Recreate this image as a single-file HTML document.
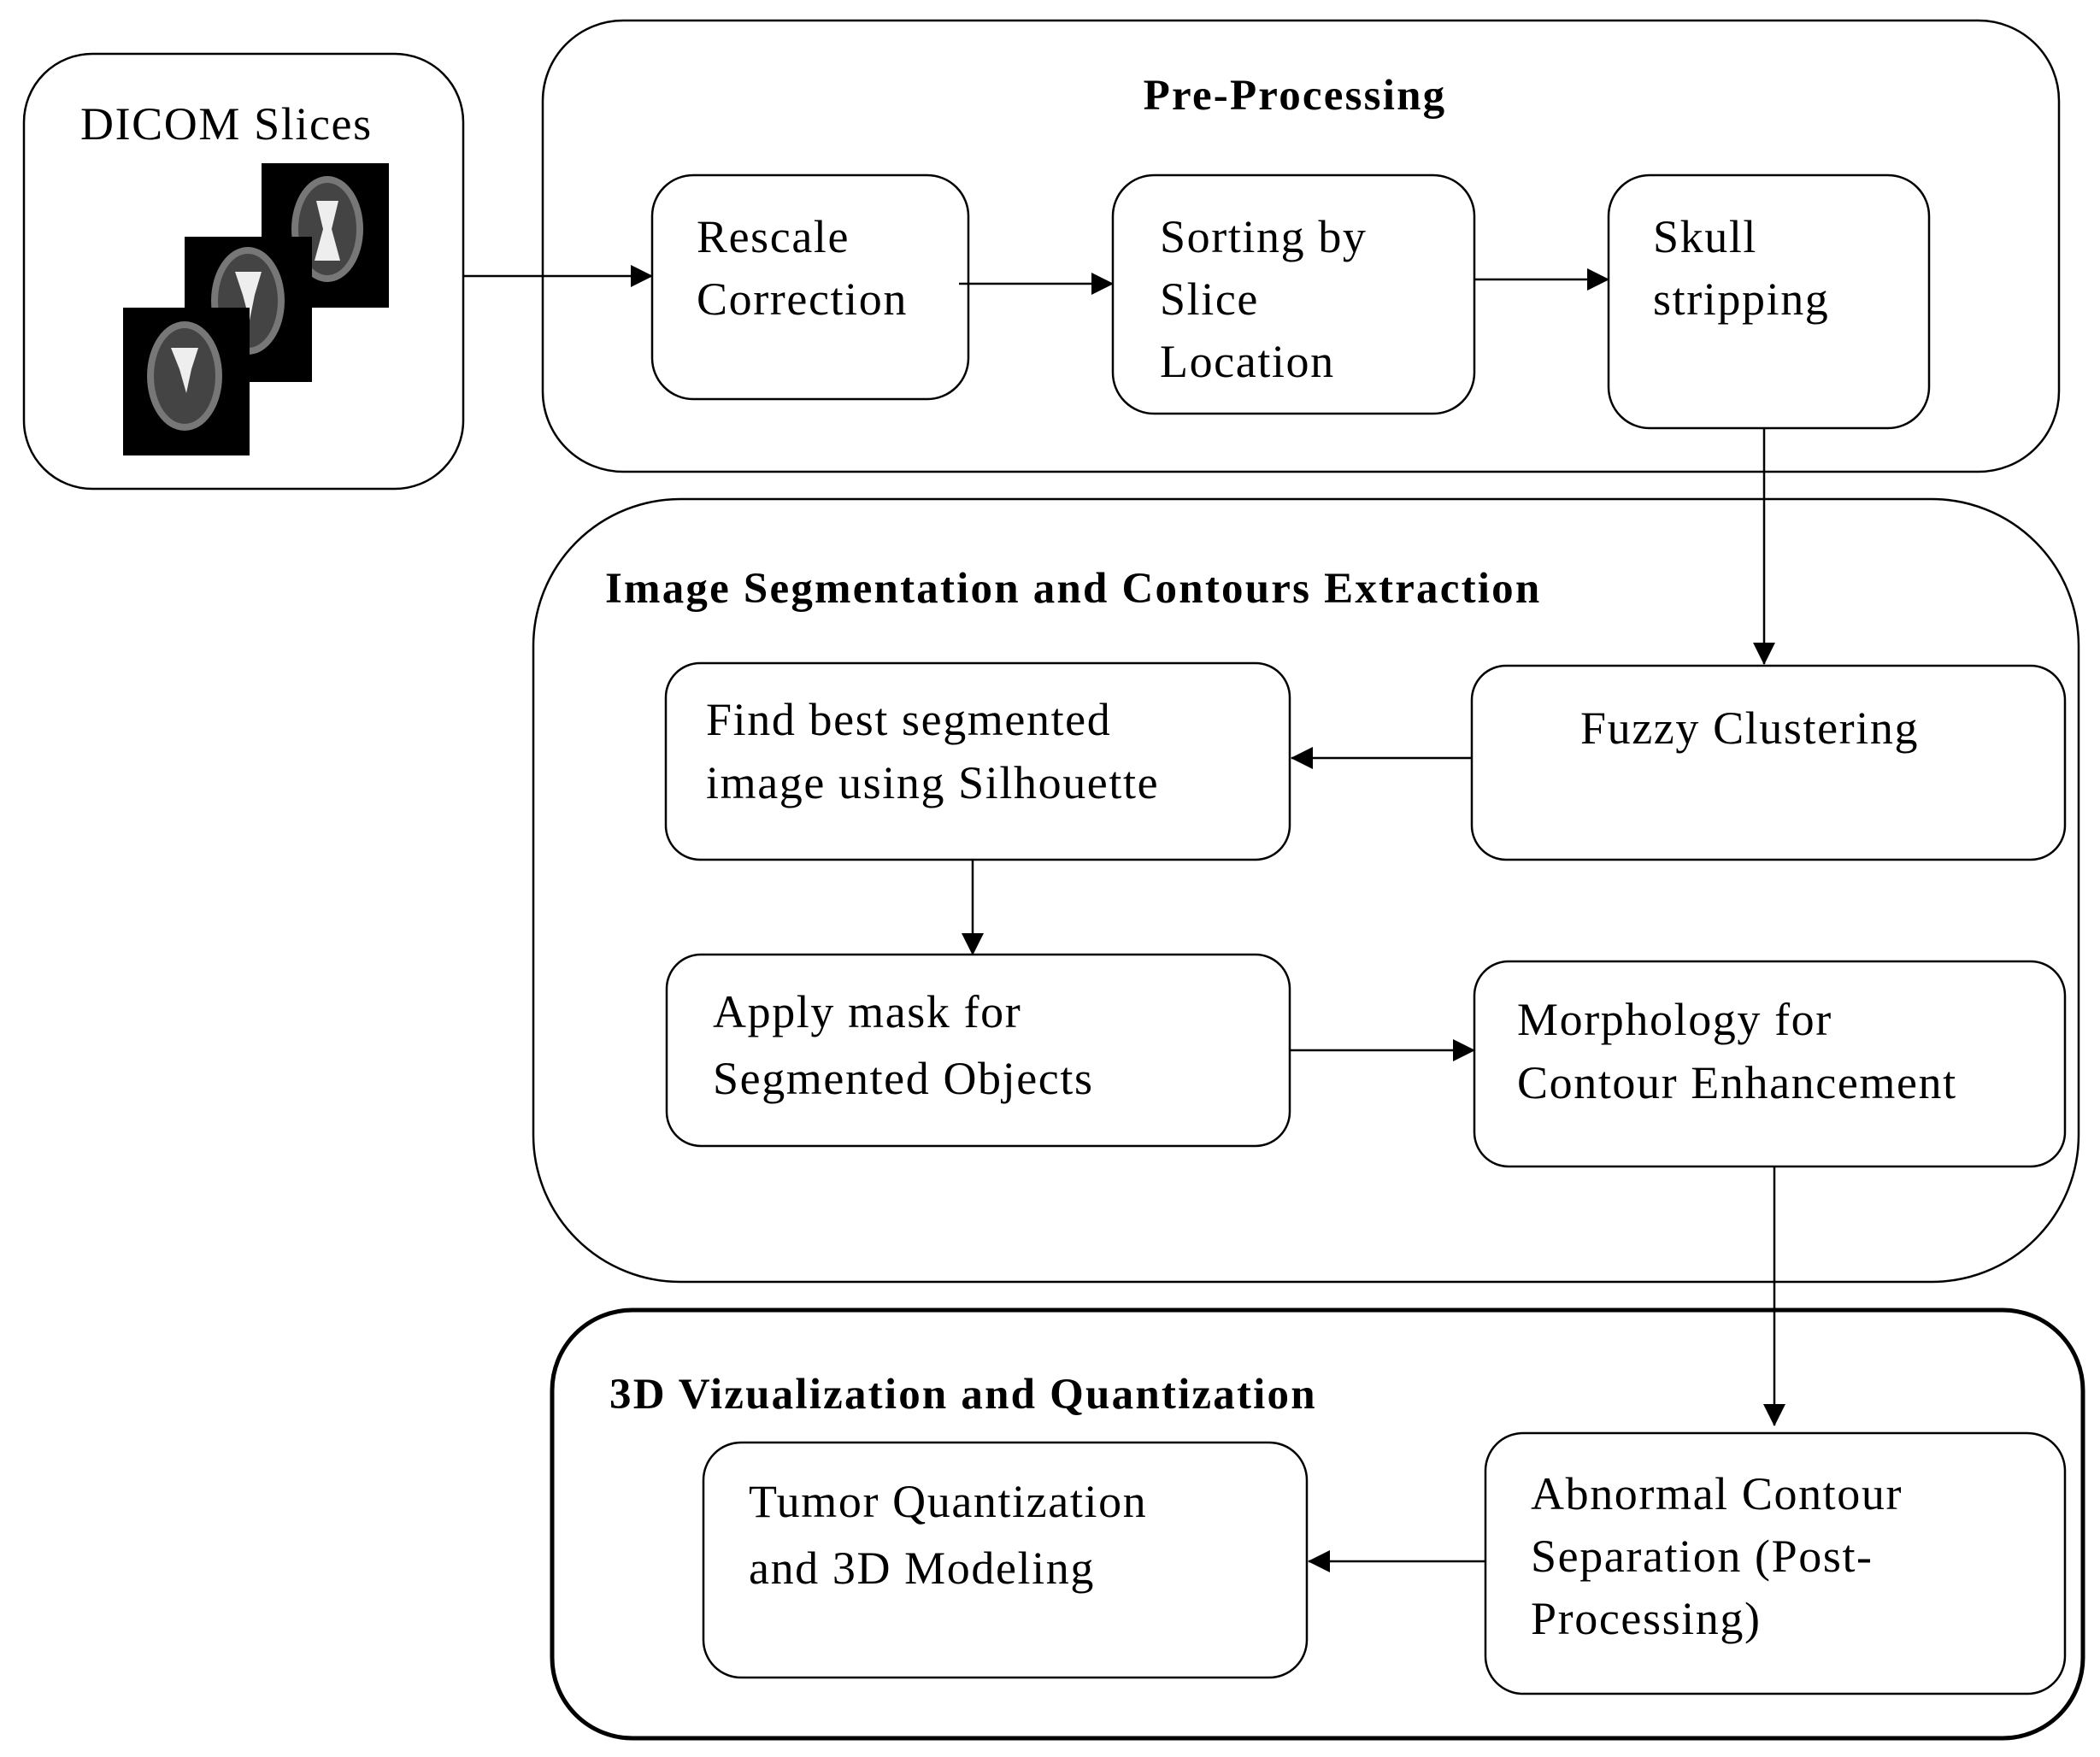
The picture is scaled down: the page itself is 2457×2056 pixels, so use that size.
<!DOCTYPE html>
<html><head><meta charset="utf-8"><style>
html,body{margin:0;padding:0;background:#fff;}
svg{display:block;}
text{font-family:"Liberation Serif",serif;fill:#000;}
.t{font-size:54px;letter-spacing:1.6px;}
.h{font-size:51px;font-weight:bold;letter-spacing:2.2px;}
</style></head><body>
<svg width="2457" height="2056" viewBox="0 0 2457 2056" xmlns="http://www.w3.org/2000/svg">
<defs>
<marker id="b" markerWidth="26" markerHeight="26" refX="25" refY="13" orient="auto" markerUnits="userSpaceOnUse" viewBox="0 0 26 26">
<path d="M0,0 L26,13 L0,26 z" fill="#000"/></marker>
</defs>
<g fill="none" stroke="#000" stroke-width="2.5">
<rect x="28" y="63" width="514" height="509" rx="80"/>
<rect x="635" y="24" width="1774" height="528" rx="94"/>
<rect x="763" y="205" width="370" height="262" rx="48"/>
<rect x="1302" y="205" width="423" height="279" rx="48"/>
<rect x="1882" y="205" width="375" height="296" rx="48"/>
<rect x="624" y="584" width="1808" height="916" rx="172"/>
<rect x="779" y="776" width="730" height="230" rx="40"/>
<rect x="1722" y="779" width="694" height="227" rx="40"/>
<rect x="780" y="1117" width="729" height="224" rx="40"/>
<rect x="1725" y="1125" width="691" height="240" rx="40"/>
<rect x="646" y="1533" width="1791" height="501" rx="94" stroke-width="5"/>
<rect x="823" y="1688" width="706" height="275" rx="44"/>
<rect x="1738" y="1677" width="678" height="305" rx="44"/>
</g>
<g stroke="#000" stroke-width="2.5" fill="none" marker-end="url(#b)">
<line x1="542" y1="323" x2="763" y2="323"/>
<line x1="1122" y1="332" x2="1302" y2="332"/>
<line x1="1725" y1="327" x2="1882" y2="327"/>
<line x1="2064" y1="501" x2="2064" y2="777"/>
<line x1="1722" y1="887" x2="1511" y2="887"/>
<line x1="1138" y1="1006" x2="1138" y2="1117"/>
<line x1="1509" y1="1229" x2="1725" y2="1229"/>
<line x1="2076" y1="1365" x2="2076" y2="1668"/>
<line x1="1738" y1="1827" x2="1531" y2="1827"/>
</g>
<g>
<rect x="306" y="191" width="149" height="169" fill="#000"/>
<ellipse cx="383" cy="268" rx="42" ry="62" fill="#777"/>
<ellipse cx="383" cy="268" rx="34" ry="54" fill="#444"/>
<path d="M370 235 L396 235 L388 268 L398 305 L368 305 L378 268 Z" fill="#eee"/>
<rect x="216" y="277" width="149" height="170" fill="#000"/>
<ellipse cx="290" cy="352" rx="43" ry="63" fill="#777"/>
<ellipse cx="290" cy="352" rx="35" ry="55" fill="#444"/>
<path d="M275 318 L306 318 L298 345 L292 375 L284 345 Z" fill="#eee"/>
<rect x="144" y="360" width="148" height="173" fill="#000"/>
<ellipse cx="216" cy="440" rx="44" ry="64" fill="#777"/>
<ellipse cx="216" cy="440" rx="36" ry="56" fill="#444"/>
<path d="M200 407 L232 407 L224 432 L218 460 L210 432 Z" fill="#eee"/>
</g>
<text class="t" x="94" y="163">DICOM Slices</text>
<text class="h" x="1515" y="128" text-anchor="middle">Pre-Processing</text>
<text class="t" x="815" y="295">Rescale</text>
<text class="t" x="815" y="368">Correction</text>
<text class="t" x="1357" y="295">Sorting by</text>
<text class="t" x="1357" y="368">Slice</text>
<text class="t" x="1357" y="441">Location</text>
<text class="t" x="1934" y="295">Skull</text>
<text class="t" x="1934" y="368">stripping</text>
<text class="h" x="708" y="705">Image Segmentation and Contours Extraction</text>
<text class="t" x="826" y="860">Find best segmented</text>
<text class="t" x="826" y="934">image using Silhouette</text>
<text class="t" x="1849" y="870">Fuzzy Clustering</text>
<text class="t" x="834" y="1202">Apply mask for</text>
<text class="t" x="834" y="1280">Segmented Objects</text>
<text class="t" x="1775" y="1211">Morphology for</text>
<text class="t" x="1775" y="1285">Contour Enhancement</text>
<text class="h" x="713" y="1648">3D Vizualization and Quantization</text>
<text class="t" x="876" y="1775">Tumor Quantization</text>
<text class="t" x="876" y="1853">and 3D Modeling</text>
<text class="t" x="1791" y="1766">Abnormal Contour</text>
<text class="t" x="1791" y="1839">Separation (Post-</text>
<text class="t" x="1791" y="1912">Processing)</text>
</svg>
</body></html>
